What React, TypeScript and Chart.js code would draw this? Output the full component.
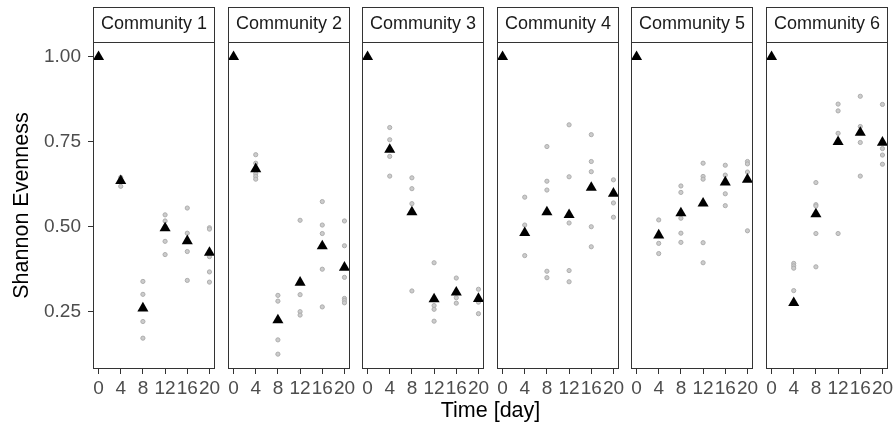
import React, { useEffect, useRef } from "react";
import { Chart, registerables } from "chart.js";
Chart.register(...registerables);

// ---------- data ----------
const days = [0, 4, 8, 12, 16, 20];
const xTickValues = [0, 4, 8, 12, 16, 20];
const yTickValues = [0.25, 0.5, 0.75, 1.0];
const panelTitles = ["Community 1", "Community 2", "Community 3", "Community 4", "Community 5", "Community 6"];
const yAxisTitle = "Shannon Evenness";
const xAxisTitle = "Time [day]";

const community1Replicates = [
  [1, 1, 1, 1],
  [0.645, 0.64, 0.632, 0.619],
  [0.339, 0.301, 0.221, 0.172],
  [0.535, 0.517, 0.5, 0.457, 0.418],
  [0.555, 0.481, 0.427, 0.342],
  [0.497, 0.493, 0.412, 0.367, 0.337],
];
const community1Means = [1.0, 0.635, 0.26, 0.496, 0.458, 0.424];

const community2Replicates = [
  [1, 1, 1, 1],
  [0.712, 0.687, 0.656, 0.648, 0.64],
  [0.298, 0.281, 0.167, 0.125],
  [0.519, 0.3, 0.25, 0.24],
  [0.574, 0.505, 0.48, 0.375, 0.264],
  [0.517, 0.444, 0.351, 0.289, 0.283, 0.276],
];
const community2Means = [1.0, 0.67, 0.225, 0.336, 0.443, 0.38];

const community3Replicates = [
  [1, 1, 1, 1],
  [0.792, 0.756, 0.707, 0.649],
  [0.644, 0.612, 0.568, 0.311],
  [0.394, 0.268, 0.257, 0.222],
  [0.349, 0.291, 0.275],
  [0.316, 0.278, 0.244],
];
const community3Means = [1.0, 0.727, 0.543, 0.287, 0.307, 0.288];

const community4Replicates = [
  [1, 1, 1, 1],
  [0.587, 0.505, 0.415],
  [0.736, 0.634, 0.608, 0.369, 0.35],
  [0.8, 0.647, 0.511, 0.371, 0.338],
  [0.771, 0.692, 0.662, 0.5, 0.441],
  [0.638, 0.57, 0.528],
];
const community4Means = [1.0, 0.482, 0.543, 0.535, 0.615, 0.598];

const community5Replicates = [
  [1, 1, 1, 1],
  [0.52, 0.451, 0.421],
  [0.62, 0.601, 0.525, 0.481, 0.454],
  [0.687, 0.648, 0.64, 0.453, 0.394],
  [0.681, 0.652, 0.597, 0.562],
  [0.692, 0.685, 0.661, 0.488],
];
const community5Means = [1.0, 0.475, 0.54, 0.569, 0.631, 0.639];

const community6Replicates = [
  [1, 1, 1, 1],
  [0.392, 0.385, 0.378, 0.312],
  [0.63, 0.565, 0.561, 0.48, 0.382],
  [0.861, 0.841, 0.775, 0.48],
  [0.884, 0.795, 0.748, 0.649],
  [0.86, 0.73, 0.711, 0.684],
];
const community6Means = [1.0, 0.276, 0.537, 0.75, 0.777, 0.748];

const allReplicates = [
  community1Replicates, community2Replicates, community3Replicates,
  community4Replicates, community5Replicates, community6Replicates,
];
const allMeans = [
  community1Means, community2Means, community3Means,
  community4Means, community5Means, community6Means,
];

// ---------- layout / style ----------
const FONT = '"Liberation Sans", Arial, Helvetica, sans-serif';
const PANEL_LEFT0 = 93.3;
const PANEL_PITCH = 134.45;
const PANEL_W = 122;
const SIDE_PAD = 12;
const STRIP_TOP = 7;
const X_AXIS_H = 63;
const CANVAS_H = 432;

const allValues = allReplicates.flat(2).concat(allMeans.flat());
const dataMin = Math.min(...allValues);
const dataMax = Math.max(...allValues);
const span = dataMax - dataMin;
const Y_MIN = dataMin - span * 0.05;
const Y_MAX = dataMax + span * 0.05;
const X_MIN = days[0] - (days[days.length - 1] - days[0]) * 0.05;
const X_MAX = days[days.length - 1] + (days[days.length - 1] - days[0]) * 0.05;

const panelFrame = {
  id: "panelFrame",
  afterDraw(chart: any) {
    const { ctx, chartArea: a } = chart;
    ctx.save();
    ctx.strokeStyle = "#333333";
    ctx.lineWidth = 1;
    const l = Math.round(a.left) + 0.5;
    const r = Math.round(a.right) - 0.5;
    const t = Math.round(a.top) + 0.5;
    const b = Math.round(a.bottom) - 0.5;
    ctx.strokeRect(l, t, r - l, b - t);
    const st = STRIP_TOP + 0.5;
    ctx.strokeRect(l, st, r - l, t - st);
    ctx.restore();
  },
};

function panelLeft(i: number) {
  return Math.round(PANEL_LEFT0 + i * PANEL_PITCH);
}

export default function App() {
  const refs = useRef<(HTMLCanvasElement | null)[]>([]);

  useEffect(() => {
    Chart.defaults.font.family = FONT;
    const charts: Chart[] = [];
    for (let i = 0; i < 6; i++) {
      const canvas = refs.current[i];
      if (!canvas) continue;
      const first = i === 0;
      const reps = allReplicates[i];
      const repPoints: { x: number; y: number }[] = [];
      reps.forEach((vals, di) => vals.forEach((v) => repPoints.push({ x: days[di], y: v })));
      const meanPoints = allMeans[i].map((v, di) => ({ x: days[di], y: v }));

      const chart = new Chart(canvas, {
        type: "scatter",
        data: {
          datasets: [
            {
              data: meanPoints,
              order: 0,
              pointStyle: "triangle",
              pointRadius: 6.4,
              backgroundColor: "#000000",
              borderColor: "#000000",
              borderWidth: 0,
              clip: false,
            } as any,
            {
              data: repPoints,
              order: 1,
              pointStyle: "circle",
              pointRadius: 2.1,
              backgroundColor: "#cccccc",
              borderColor: "#adadad",
              borderWidth: 1,
              clip: false,
            } as any,
          ],
        },
        options: {
          animation: false,
          responsive: false,
          events: [],
          layout: {
            padding: { left: first ? 0 : SIDE_PAD, right: SIDE_PAD, top: STRIP_TOP, bottom: 0 },
          },
          plugins: {
            legend: { display: false },
            tooltip: { enabled: false },
            title: {
              display: true,
              text: panelTitles[i],
              fullSize: false,
              color: "#1a1a1a",
              font: { size: 18, weight: "normal", family: FONT },
              padding: { top: 6.7, bottom: 6.7 },
            },
          },
          scales: {
            x: {
              type: "linear",
              min: X_MIN,
              max: X_MAX,
              afterBuildTicks: (s: any) => {
                s.ticks = xTickValues.map((v) => ({ value: v }));
              },
              afterFit: (s: any) => {
                s.height = X_AXIS_H;
              },
              ticks: {
                autoSkip: false,
                maxRotation: 0,
                padding: 3,
                color: "#4d4d4d",
                font: { size: 19, family: FONT },
                callback: (v: any) => String(v),
              },
              grid: {
                drawOnChartArea: false,
                drawTicks: true,
                tickLength: 5,
                tickColor: "#333333",
                tickWidth: 1,
              },
              border: { display: false },
            },
            y: {
              type: "linear",
              display: first,
              min: Y_MIN,
              max: Y_MAX,
              afterBuildTicks: (s: any) => {
                s.ticks = yTickValues.map((v) => ({ value: v }));
              },
              afterFit: (s: any) => {
                s.width = first ? panelLeft(0) : 0;
              },
              ticks: {
                padding: 7,
                color: "#4d4d4d",
                font: { size: 19, family: FONT },
                callback: (v: any) => Number(v).toFixed(2),
              },
              grid: {
                drawOnChartArea: false,
                drawTicks: true,
                tickLength: 5,
                tickColor: "#333333",
                tickWidth: 1,
              },
              border: { display: false },
              title: {
                display: true,
                text: yAxisTitle,
                color: "#000000",
                font: { size: 21.5, family: FONT },
                padding: { top: 8.8, bottom: 0 },
              },
            },
          },
        },
        plugins: [panelFrame],
      } as any);
      charts.push(chart);
    }
    return () => charts.forEach((c) => c.destroy());
  }, []);

  const canvases = panelTitles.map((_, i) => {
    const left = i === 0 ? 0 : panelLeft(i) - SIDE_PAD;
    const width = i === 0 ? panelLeft(0) + PANEL_W + SIDE_PAD : PANEL_W + 2 * SIDE_PAD;
    return (
      <canvas
        key={i}
        ref={(el) => {
          refs.current[i] = el;
        }}
        width={width}
        height={CANVAS_H}
        style={{ position: "absolute", left, top: 0, width, height: CANVAS_H }}
      />
    );
  });

  return (
    <div
      style={{
        position: "absolute",
        left: 0,
        top: 0,
        width: 896,
        height: 432,
        background: "#ffffff",
        overflow: "hidden",
      }}
    >
      {canvases}
      <div
        style={{
          position: "absolute",
          left: panelLeft(0),
          width: panelLeft(5) + PANEL_W - panelLeft(0),
          top: 399.5,
          textAlign: "center",
          fontFamily: FONT,
          fontSize: 21.5,
          lineHeight: 1,
          color: "#000000",
        }}
      >
        {xAxisTitle}
      </div>
    </div>
  );
}
